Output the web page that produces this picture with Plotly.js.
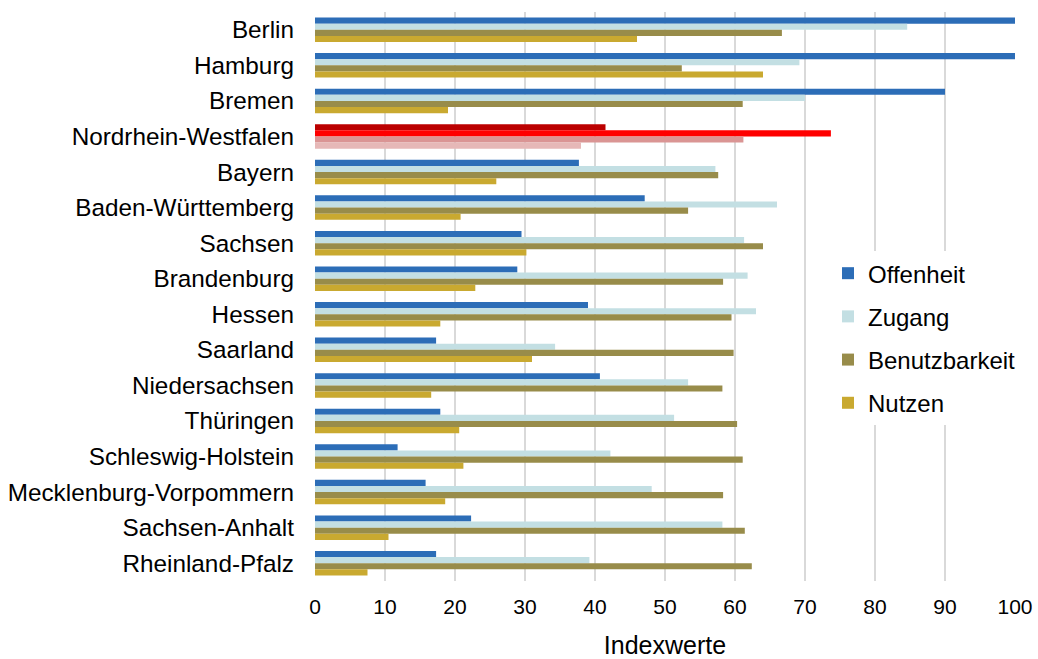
<!DOCTYPE html>
<html>
<head>
<meta charset="utf-8">
<script src="https://cdn.plot.ly/plotly-3.0.1.min.js"></script>
<style>html,body{margin:0;padding:0;background:#fff;}#chart{width:1038px;height:659px;}</style>
</head>
<body>
<div id="chart"></div>
<script>
const states = ["Berlin","Hamburg","Bremen","Nordrhein-Westfalen","Bayern","Baden-Württemberg","Sachsen","Brandenburg","Hessen","Saarland","Niedersachsen","Thüringen","Schleswig-Holstein","Mecklenburg-Vorpommern","Sachsen-Anhalt","Rheinland-Pfalz"];
const offenheit =      [100, 100, 90.0, 41.5, 37.7, 47.1, 29.5, 28.9, 39.0, 17.3, 40.7, 17.9, 11.8, 15.8, 22.3, 17.3];
const zugang =         [84.6, 69.2, 70.0, 73.7, 57.2, 66.0, 61.3, 61.8, 63.0, 34.3, 53.3, 51.3, 42.2, 48.1, 58.2, 39.2];
const benutzbarkeit =  [66.7, 52.4, 61.1, 61.2, 57.6, 53.3, 64.0, 58.3, 59.5, 59.8, 58.2, 60.3, 61.1, 58.3, 61.4, 62.4];
const nutzen =         [46.0, 64.0, 19.0, 38.0, 25.9, 20.8, 30.2, 22.9, 17.9, 31.0, 16.6, 20.6, 21.2, 18.6, 10.5, 7.5];
const seriesNames = ["Offenheit","Zugang","Benutzbarkeit","Nutzen"];
const seriesValues = [offenheit, zugang, benutzbarkeit, nutzen];
const baseColors = ["#2c6db7","#c3dfe3","#988c4a","#c9a930"];
const highlightColors = ["#bb0000","#ff0000","#da9594","#e6b8b7"];
const highlightState = "Nordrhein-Westfalen";

const FONT = "Liberation Sans, Arial, sans-serif";
const traces = seriesNames.map((name, i) => ({
  type: "bar",
  orientation: "h",
  name: name,
  legendgroup: name,
  x: seriesValues[i],
  y: states,
  marker: {
    color: states.map(s => s === highlightState ? highlightColors[i] : baseColors[i]),
    line: {width: 0}
  },
  hoverinfo: "x+y+name"
}));

const layout = {
  width: 1038, height: 659,
  margin: {l: 315, r: 23, t: 11.5, b: 77.5, autoexpand: false},
  paper_bgcolor: "#fff", plot_bgcolor: "#fff",
  font: {family: FONT, size: 24, color: "#000"},
  barmode: "group",
  bargap: 0.31,
  bargroupgap: 0,
  xaxis: {
    range: [0, 100],
    dtick: 10,
    tick0: 0,
    showgrid: true,
    gridcolor: "#d9d9d9",
    gridwidth: 2,
    zeroline: false,
    showline: false,
    ticks: "",
    ticklabelstandoff: 11,
    tickfont: {family: FONT, size: 21, color: "#000"},
    title: {text: "Indexwerte", font: {family: FONT, size: 25, color: "#000"}, standoff: 20}
  },
  yaxis: {
    autorange: "reversed",
    type: "category",
    showgrid: false,
    zeroline: false,
    showline: false,
    ticks: "",
    ticklabelstandoff: 20,
    tickfont: {family: FONT, size: 24.3, color: "#000"}
  },
  legend: {
    x: 0.7977, y: 0.619,
    xanchor: "left", yanchor: "top",
    xref: "container", yref: "container",
    bgcolor: "#ffffff",
    borderwidth: 0,
    traceorder: "grouped",
    tracegroupgap: 9,
    itemwidth: 30,
    font: {family: FONT, size: 24, color: "#000"}
  },
  showlegend: true
};

Plotly.newPlot("chart", traces, layout, {displayModeBar: false, staticPlot: true});
</script>
</body>
</html>
